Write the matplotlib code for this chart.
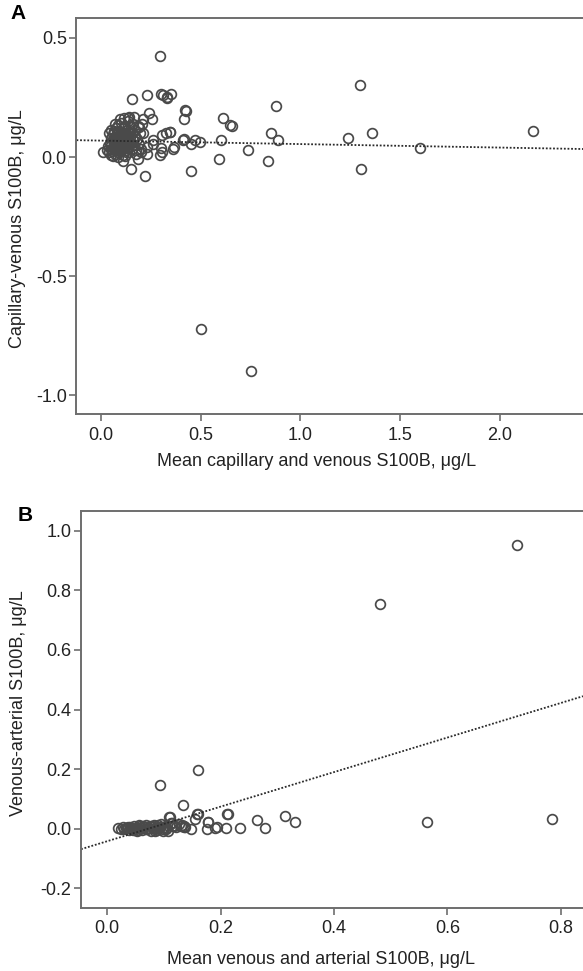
import matplotlib
matplotlib.use("Agg")
import matplotlib.pyplot as plt

plt.rcParams['font.family'] = ['Liberation Sans', 'DejaVu Sans']
plt.rcParams['axes.unicode_minus'] = False

# --- Panel A : capillary vs venous (Bland-Altman style) ---
# scattered points
a_mean = [0.295, 0.299, 0.332, 0.353, 0.233, 0.155, 0.239, 0.257, 0.425, 0.416,
          0.612, 0.646, 0.659, 0.877, 1.299, 1.358, 1.239, 1.601, 2.164, 1.302,
          0.836, 0.851, 0.886, 0.739, 0.603, 0.590, 0.500, 0.754, 0.450, 0.453,
          0.472, 0.496, 0.414, 0.366, 0.362, 0.347, 0.325, 0.304, 0.295, 0.299,
          0.220, 0.149, 0.108, 0.183, 0.174, 0.233, 0.263, 0.261, 0.011, 0.052,
          0.211, 0.211, 0.192, 0.164, 0.136, 0.198, 0.229, 0.312, 0.329, 0.421,
          0.346, 0.409, 0.304]
a_diff = [0.425, 0.264, 0.250, 0.266, 0.260, 0.243, 0.187, 0.161, 0.194, 0.161,
          0.162, 0.133, 0.130, 0.213, 0.301, 0.099, 0.081, 0.039, 0.110, -0.050,
          -0.018, 0.099, 0.070, 0.031, 0.071, -0.010, -0.723, -0.897, -0.057, 0.057,
          0.071, 0.062, 0.077, 0.043, 0.035, 0.105, 0.102, 0.092, 0.007, 0.039,
          -0.078, -0.048, -0.018, -0.010, 0.011, 0.013, 0.055, 0.071, 0.022, 0.010,
          0.099, 0.159, 0.127, 0.169, 0.162, 0.036, 0.043, 0.260, 0.246, 0.197,
          0.106, 0.071, 0.022]
# dense cluster near zero
a_mean_low = [0.030, 0.035, 0.040, 0.045, 0.048, 0.050, 0.052, 0.055, 0.058, 0.060,
              0.062, 0.065, 0.066, 0.068, 0.070, 0.072, 0.074, 0.075, 0.077, 0.078,
              0.080, 0.082, 0.083, 0.085, 0.086, 0.088, 0.090, 0.091, 0.093, 0.095,
              0.096, 0.098, 0.100, 0.101, 0.103, 0.105, 0.106, 0.108, 0.110, 0.111,
              0.113, 0.115, 0.116, 0.118, 0.120, 0.122, 0.124, 0.125, 0.127, 0.129,
              0.130, 0.132, 0.135, 0.136, 0.138, 0.140, 0.142, 0.145, 0.148, 0.150,
              0.153, 0.155, 0.158, 0.162, 0.165, 0.168, 0.172, 0.175, 0.180, 0.185,
              0.190, 0.195, 0.200, 0.205, 0.060, 0.085, 0.120, 0.040, 0.050, 0.070,
              0.095, 0.115, 0.140,
              0.064, 0.071, 0.079, 0.087, 0.094, 0.099, 0.104, 0.109, 0.114, 0.119,
              0.124, 0.131, 0.069, 0.081, 0.092, 0.102, 0.112, 0.121, 0.076, 0.097]
a_diff_low = [0.030, 0.045, 0.020, 0.060, 0.035, 0.080, 0.050, 0.025, 0.070, 0.095,
              0.040, 0.110, 0.060, 0.015, 0.085, 0.050, 0.030, 0.120, 0.070, 0.100,
              0.045, 0.060, 0.020, 0.090, 0.135, 0.075, 0.040, 0.110, 0.055, 0.025,
              0.080, 0.100, 0.065, 0.145, 0.035, 0.090, 0.050, 0.120, 0.075, 0.010,
              0.060, 0.100, 0.040, 0.085, 0.130, 0.055, 0.070, 0.030, 0.095, 0.115,
              0.050, 0.080, 0.150, 0.065, 0.020, 0.105, 0.045, 0.085, 0.125, 0.060,
              0.035, 0.100, 0.070, 0.140, 0.050, 0.090, 0.115, 0.030, 0.075, 0.130,
              0.055, 0.100, 0.020, 0.140, 0.005, 0.000, 0.005, 0.100, 0.115, 0.140,
              0.160, 0.165, 0.170,
              0.052, 0.038, 0.065, 0.045, 0.070, 0.030, 0.058, 0.042, 0.080, 0.048,
              0.062, 0.040, 0.075, 0.055, 0.088, 0.028, 0.068, 0.092, 0.060, 0.050]
a_fit = (0.0692, -0.0146)   # intercept, slope

# --- Panel B : venous vs arterial ---
b_mean = [0.7226, 0.481, 0.564, 0.784, 0.160, 0.093, 0.134, 0.313, 0.332, 0.264,
          0.278, 0.234, 0.211, 0.210, 0.191, 0.178, 0.176, 0.160, 0.155, 0.147,
          0.110, 0.136, 0.132, 0.115, 0.109, 0.158, 0.177, 0.193, 0.213]
b_diff = [0.952, 0.754, 0.0235, 0.0325, 0.197, 0.147, 0.0795, 0.0425, 0.021, 0.028,
          0.003, 0.003, 0.048, 0.003, 0.003, 0.021, -0.002, 0.048, 0.031, -0.002,
          0.038, 0.007, 0.012, 0.018, 0.040, 0.048, 0.021, 0.006, 0.048]
b_mean_low = [0.020, 0.025, 0.028, 0.030, 0.033, 0.035, 0.038, 0.040, 0.042, 0.045,
              0.048, 0.050, 0.052, 0.055, 0.058, 0.060, 0.062, 0.065, 0.068, 0.070,
              0.072, 0.075, 0.078, 0.080, 0.082, 0.085, 0.088, 0.090, 0.092, 0.095,
              0.098, 0.100, 0.103, 0.105, 0.108, 0.112, 0.118, 0.122, 0.126, 0.130,
              0.135, 0.138,
              0.044, 0.054, 0.064, 0.074, 0.084, 0.094, 0.104, 0.114, 0.057, 0.087,
              0.069, 0.099, 0.036, 0.079]
b_diff_low = [0.003, 0.000, 0.005, -0.002, 0.004, 0.001, -0.005, 0.006, 0.002, -0.003,
              0.008, 0.000, -0.006, 0.004, 0.010, 0.002, -0.004, 0.006, 0.012, -0.002,
              0.003, 0.009, -0.007, 0.005, 0.014, 0.000, -0.005, 0.011, 0.004, 0.016,
              -0.008, 0.007, 0.002, 0.013, -0.006, 0.020, 0.010, 0.005, 0.015, 0.009,
              0.008, 0.006,
              0.002, -0.004, 0.008, 0.001, -0.006, 0.005, -0.002, 0.009, 0.012, 0.003,
              -0.001, 0.000, 0.007, 0.010]
b_fit = (-0.042, 0.58)

a_xticks = [0.0, 0.5, 1.0, 1.5, 2.0]
a_yticks = [0.5, 0.0, -0.5, -1.0]
b_xticks = [0.0, 0.2, 0.4, 0.6, 0.8]
b_yticks = [1.0, 0.8, 0.6, 0.4, 0.2, 0.0, -0.2]

spine_col = "#6e6e6e"
mark_col = "#4a4a4a"
txt_col = "#222222"
fsize = 13


def style_axes(ax, xticks, yticks):
    for s in ["top", "left", "bottom"]:
        ax.spines[s].set_color(spine_col)
        ax.spines[s].set_linewidth(1.4)
    ax.spines["right"].set_visible(False)
    ax.set_xticks(xticks)
    ax.set_yticks(yticks)
    ax.set_xticklabels(["%.1f" % v for v in xticks])
    ax.set_yticklabels(["%.1f" % v for v in yticks])
    ax.tick_params(direction="out", length=5, width=1.2, color=spine_col,
                   labelsize=fsize, labelcolor=txt_col)
    ax.tick_params(axis="x", pad=4)
    ax.tick_params(axis="y", pad=2)


def scatter(ax, x, y):
    ax.plot(x, y, linestyle="none", marker="o", markersize=7.0,
            markerfacecolor="none", markeredgecolor=mark_col, markeredgewidth=1.25)


fig = plt.figure(figsize=(5.83, 9.71), dpi=100)

# panel A
axA = fig.add_axes([0.1312, 0.5733, 0.8688, 0.4078])
scatter(axA, a_mean + a_mean_low, a_diff + a_diff_low)
axA.axline((0, a_fit[0]), slope=a_fit[1], color="#2a2a2a", linestyle=(0, (1, 1)), linewidth=1.3)
axA.set_xlim(-0.123, 2.417)
axA.set_ylim(-1.079, 0.582)
style_axes(axA, a_xticks, a_yticks)
axA.set_xlabel("Mean capillary and venous S100B, μg/L", fontsize=fsize, color=txt_col)
axA.set_ylabel("Capillary-venous S100B, μg/L", fontsize=fsize, color=txt_col)
axA.xaxis.set_label_coords(0.473, -0.098)
axA.yaxis.set_label_coords(-0.100, 0.470)

# panel B
axB = fig.add_axes([0.139, 0.0652, 0.861, 0.4085])
scatter(axB, b_mean + b_mean_low, b_diff + b_diff_low)
axB.axline((0, b_fit[0]), slope=b_fit[1], color="#2a2a2a", linestyle=(0, (1, 1)), linewidth=1.3)
axB.set_xlim(-0.046, 0.839)
axB.set_ylim(-0.265, 1.066)
style_axes(axB, b_xticks, b_yticks)
axB.set_xlabel("Mean venous and arterial S100B, μg/L", fontsize=fsize, color=txt_col)
axB.set_ylabel("Venous-arterial S100B, μg/L", fontsize=fsize, color=txt_col)
axB.xaxis.set_label_coords(0.479, -0.108)
axB.yaxis.set_label_coords(-0.108, 0.516)

# panel letters
fig.text(10 / 583, 1 - 4 / 971, "A", fontsize=15, fontweight="bold", va="top", ha="left")
fig.text(18 / 583, 1 - 506 / 971, "B", fontsize=15, fontweight="bold", va="top", ha="left")

fig.savefig("out.png", dpi=100)
